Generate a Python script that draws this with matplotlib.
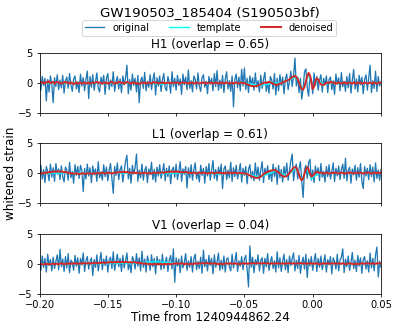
import numpy as np
import matplotlib
matplotlib.use("Agg")
import matplotlib.pyplot as plt

title = "GW190503_185404 (S190503bf)"
detectors = ["H1", "L1", "V1"]
overlaps = ["0.65", "0.61", "0.04"]
xlabel = "Time from 1240944862.24"
ylabel = "whitened strain"
legend_labels = ["original", "template", "denoised"]
t_start, t_stop = -0.2, 0.05
xticks = [-0.20, -0.15, -0.10, -0.05, 0.00, 0.05]
yticks = [-5, 0, 5]

h1_original = [
    0.3, -1.2, 1.1, -0.4, 0.8, -3.0, 0.6, -1.5, 1.2, -0.2,
    -3.3, 0.9, -0.6, 1.4, -1.1, 0.5, -0.8, 1.3, -1.7, 0.4,
    1.0, -0.9, 1.6, -0.3, -1.4, 0.7, 1.2, -1.0, 0.2, -1.6,
    1.5, -0.5, 0.9, -1.3, 0.6, 2.0, -2.6, 1.1, -0.7, 1.4,
    -1.2, 0.3, 1.7, -0.8, -1.5, 1.0, -0.2, 1.3, -1.9, 0.8,
    1.6, -1.1, 0.5, -0.6, 1.9, -1.4, 0.2, 1.1, -1.0, 0.7,
    -1.6, 1.2, -0.3, 0.9, 3.0, -1.8, 0.6, -1.2, 1.5, -0.4,
    0.8, -1.5, 1.3, -3.3, 0.4, 1.0, -0.9, 1.8, -1.3, 0.3,
    -0.7, 1.4, -1.1, 0.6, 1.7, -2.0, 0.9, -0.5, 1.2, -1.4,
    0.5, 1.6, -0.8, -1.3, 1.1, 0.2, -1.7, 1.9, -0.6, 0.8,
    -1.2, 1.3, -0.4, 0.7, -1.9, 1.5, -0.3, 1.0, -1.1, 2.2,
    -0.9, 0.4, -1.5, 1.2, 0.6, -1.0, 1.7, -0.5, -1.4, 0.9,
    1.4, -0.7, 0.3, -1.8, 1.1, -0.2, 0.8, -1.3, 1.6, -0.6,
    2.1, -1.2, 0.5, -0.9, 1.3, -1.6, 0.7, 1.9, -1.0, 0.4,
    -1.4, 1.2, -4.0, 0.6, 1.5, -0.8, 1.0, -1.3, 2.3, -0.5,
    2.5, -1.1, 0.8, -1.6, 1.2, -0.3, 0.9, -1.2, 1.7, -0.7,
    0.4, -1.5, 1.3, -0.9, 0.6, 1.8, -1.4, 0.2, -1.7, 1.1,
    0.5, -1.0, 1.6, -2.0, 0.8, -1.3, 1.4, -0.4, 1.0, -1.8,
    0.7, 1.5, -1.1, 0.3, 2.0, -0.6, 1.2, 4.2, -0.5, 1.0,
    -1.6, 0.8, -2.7, -0.9, 1.9, 2.4, -0.7, -2.2, 1.3, 0.6,
    -1.8, 1.7, -0.4, 1.1, -1.2, 0.5, 1.4, -1.5, 0.8, -0.3,
    1.2, -1.6, 0.6, 1.0, -1.1, 0.4, -1.9, 1.5, -0.2, 0.9,
    -1.3, 1.8, -0.6, 0.3, -1.4, 1.1, -0.8, 1.6, -1.7, 0.5,
    2.3, -1.0, 0.7, -1.5, 1.3, -0.3, 1.0, -1.8, 0.6, 1.4,
    -1.2, 0.8, 3.0, -1.6, 0.4, -0.9, 2.0, -1.4, 1.1, -0.5,
    0.2,
]

l1_original = [
    -0.4, 1.3, -1.0, 0.6, -1.6, 1.1, 0.2, -1.3, 1.5, -0.7,
    0.9, -1.4, 1.6, -0.2, 0.7, -1.1, 1.2, -0.6, -1.5, 1.0,
    0.5, -1.2, 1.8, -0.8, 0.3, -1.7, 1.4, -0.4, 1.1, -0.9,
    1.3, 0.4, -3.1, 0.8, -1.0, 1.5, -0.5, 0.9, -1.6, 1.2,
    -0.3, 0.7, -1.4, 1.9, -0.8, 0.2, -1.2, 1.4, -0.6, 1.0,
    -1.3, 0.5, 1.6, -0.9, -3.4, 1.1, -0.4, 1.7, -1.1, 0.6,
    1.2, -1.5, 0.3, 2.0, 3.0, -1.0, 0.8, -1.7, 1.3, -0.2,
    0.9, 3.2, -1.4, 0.5, -0.8, 1.5, -1.2, 0.4, 1.1, -1.6,
    0.7, -0.3, 1.8, -1.1, 0.6, -1.5, 1.0, -0.5, 1.4, -0.9,
    0.2, 1.6, -1.3, 0.8, -0.6, 1.2, -1.8, 0.5, 1.0, -0.7,
    1.5, -1.1, 0.3, 1.9, -1.4, 0.7, -0.2, 1.1, -2.5, 0.9,
    -0.8, 1.4, -1.2, 0.6, 1.7, -1.0, 0.2, -1.5, 1.3, -0.4,
    0.8, -1.7, 1.1, -0.5, 1.6, -1.2, 0.4, 2.1, -0.9, 0.6,
    -1.3, 1.0, -0.3, 1.5, -2.6, 0.7, 1.2, -1.1, 0.5, -0.8,
    1.8, -1.4, 0.9, -0.6, 1.3, -1.0, 0.2, 1.6, -1.5, 0.8,
    -0.4, 1.1, -1.8, 0.6, 1.4, -0.9, 0.3, -1.3, 1.7, -0.7,
    1.0, -1.2, 0.5, 1.9, -1.6, 0.8, -0.3, 1.2, -1.1, 0.4,
    -1.4, 1.5, -0.6, 0.9, -1.9, 1.3, -0.8, 0.6, -1.5, 1.1,
    -0.5, 1.7, -1.2, 0.4, 2.0, 3.2, -1.3, 0.7, 1.5, -1.0,
    0.8, 1.9, -1.4, -4.1, 0.6, 1.3, -0.9, 1.8, 2.3, -1.2,
    0.5, -1.6, 1.2, -0.4, 0.9, -1.3, 1.6, -0.7, 0.3, -1.5,
    1.1, -0.6, 1.4, -1.0, 0.2, 1.7, -1.4, 0.8, -0.5, 1.2,
    -1.1, 0.6, 1.5, -0.9, 2.5, -1.3, 0.4, 1.0, -1.7, 0.7,
    -0.3, 1.3, -1.2, 0.9, -0.7, 1.6, -1.4, -2.6, 1.1, -0.5,
    0.8, -1.1, 1.4, -0.6, 1.0, -1.5, 1.7, -0.9, 0.5, -1.2,
    0.6,
]

v1_original = [
    0.5, -1.1, 1.3, -0.6, 0.9, -1.4, 1.6, -0.3, 0.7, -1.2,
    1.1, -0.8, 0.4, 1.5, -1.0, 2.4, -0.5, 0.8, -1.3, 1.2,
    -0.7, 1.7, -1.5, 0.6, 0.2, -1.1, 1.4, -0.4, 1.0, -1.6,
    0.9, -0.2, 1.8, -1.3, 0.5, 1.2, -0.9, 0.3, 1.0, -2.0,
    0.7, -0.6, 1.5, -1.2, 0.4, 1.9, -1.0, 0.8, -0.3, 1.3,
    -1.4, 0.6, 1.1, -0.8, 2.0, -1.1, 0.3, 1.6, -0.5, 0.9,
    -1.3, 1.4, -0.7, 0.5, 1.8, -1.0, 0.2, -1.5, 1.2, 0.6,
    -0.9, 1.7, -0.4, 1.0, -1.2, 2.1, -0.6, 0.8, -1.4, 1.3,
    0.4, -1.1, 1.5, -0.5, 0.9, -1.7, 1.2, -0.2, 0.7, -1.0,
    1.6, -0.8, 0.3, 1.1, -1.3, 0.6, 1.4, -0.9, 2.5, -3.1,
    1.0, -0.4, 0.8, -1.5, 1.3, -0.7, 0.2, 1.7, -1.1, 0.5,
    -0.6, 1.2, -1.4, 0.9, 1.6, -1.0, 0.4, -0.8, 1.1, -1.6,
    2.3, -0.5, 0.7, -1.2, 1.4, -0.3, 0.9, -1.7, 1.5, -0.6,
    0.3, 1.8, -1.1, 0.6, -0.9, 1.3, -1.4, 0.8, 1.0, -0.5,
    -1.2, 1.6, -0.7, 0.4, 1.9, -1.3, 0.5, -0.4, 1.2, -1.0,
    0.8, 1.4, -0.9, -3.9, 3.0, -0.6, 1.1, -1.5, 0.7, -0.2,
    1.5, -1.2, 0.6, 1.0, -1.6, 0.9, -0.5, 1.7, -1.1, 0.3,
    1.2, -0.8, 0.5, -1.4, 2.0, -0.7, 1.0, -1.3, 0.4, 1.6,
    -1.0, 0.7, -1.5, 1.3, -0.3, 0.9, 1.8, -1.2, 0.6, -0.8,
    1.4, -1.6, 0.2, 1.1, -0.9, 1.6, -2.3, 0.8, -0.4, 1.2,
    -1.1, 0.5, 1.7, -1.3, 0.9, -0.6, 1.3, -1.0, 0.3, 1.5,
    -1.4, 0.7, -0.2, 1.2, -1.7, 1.0, 0.4, -0.9, 1.6, -1.2,
    0.6, 1.1, 2.5, -1.5, 0.8, -0.5, 1.3, -1.1, 0.2, 1.9,
    -0.8, 0.6, -1.3, 1.4, -0.4, 1.0, -1.6, 0.7, 1.2, -0.9,
    0.5, -1.4, 1.8, -0.7, 0.9, -1.2, 1.5, 2.8, -2.2, 0.4,
    -0.6,
]

h1_denoised = [
    0.1, 0.2, 0.0, 0.1, -0.1, 0.2, 0.1, 0.3, 0.0, 0.1,
    0.2, -0.1, 0.1, 0.2, 0.0, 0.1, -0.1, 0.0, 0.1, 0.2,
    0.0, 0.1, -0.1, 0.1, 0.0, -0.2, 0.0, 0.1, -0.1, 0.0,
    0.1, -0.1, 0.0, 0.1, -0.1, 0.0, 0.1, -0.1, 0.0, 0.1,
    0.0, 0.1, 0.2, 0.0, 0.1, 0.0, -0.1, 0.1, 0.0, 0.1,
    -0.1, 0.0, 0.1, 0.2, 0.0, -0.1, 0.1, 0.0, 0.2, 0.1,
    0.0, 0.1, -0.1, 0.0, 0.2, 0.1, 0.0, -0.1, 0.1, 0.0,
    0.1, -0.1, 0.0, -0.2, 0.0, 0.1, 0.0, 0.1, -0.1, 0.0,
    0.1, 0.0, -0.1, 0.1, 0.2, 0.0, 0.1, -0.1, 0.0, 0.1,
    0.0, 0.1, -0.1, 0.0, 0.1, 0.0, -0.1, 0.1, 0.0, 0.1,
    0.0, 0.1, 0.0, -0.1, 0.1, 0.1, 0.0, 0.1, 0.0, -0.1,
    0.1, 0.0, 0.1, -0.1, 0.0, 0.1, 0.0, -0.1, 0.0, 0.1,
    0.0, 0.1, -0.1, 0.0, 0.1, 0.0, 0.1, -0.1, 0.0, 0.1,
    0.0, -0.1, 0.1, 0.0, 0.1, -0.1, 0.0, 0.1, 0.0, -0.1,
    0.0, 0.1, -0.1, 0.0, 0.1, 0.0, -0.1, 0.0, 0.1, 0.0,
    0.0, -0.1, -0.2, -0.3, -0.4, -0.5, -0.5, -0.6, -0.5, -0.5,
    -0.4, -0.3, -0.2, -0.1, 0.0, 0.1, 0.0, 0.1, 0.2, 0.1,
    0.0, -0.1, -0.2, -0.3, -0.3, -0.2, -0.1, 0.0, 0.1, 0.2,
    0.3, 0.4, 0.5, 0.6, 0.8, 1.0, 1.1, 1.2, 1.0, 0.6,
    0.1, -0.5, -1.0, -1.1, -0.6, 0.3, 1.2, 1.7, 1.3, 0.2,
    -1.0, -0.6, 0.3, 0.8, 0.6, 0.1, -0.2, -0.3, -0.3, -0.1,
    0.0, 0.1, 0.0, 0.2, 0.1, 0.0, 0.1, -0.1, 0.0, 0.1,
    0.0, -0.1, 0.1, 0.0, 0.1, -0.1, 0.0, 0.1, 0.0, -0.1,
    0.1, 0.0, -0.1, 0.1, 0.0, 0.1, -0.1, 0.0, 0.1, 0.0,
    -0.1, 0.0, 0.1, 0.0, -0.1, 0.1, 0.0, -0.1, 0.0, 0.1,
    0.0,
]

l1_denoised = [
    0.0, 0.1, -0.1, 0.0, 0.1, 0.0, 0.1, 0.2, 0.1, 0.2,
    0.2, 0.3, 0.2, 0.3, 0.3, 0.2, 0.3, 0.2, 0.1, 0.2,
    0.1, 0.0, 0.1, -0.1, 0.0, -0.1, -0.1, 0.0, -0.1, -0.2,
    -0.1, -0.1, 0.0, -0.1, -0.1, 0.0, -0.1, 0.0, -0.1, -0.1,
    0.0, -0.1, 0.0, 0.0, -0.1, 0.0, 0.1, 0.0, -0.1, 0.0,
    0.0, 0.1, 0.0, -0.1, 0.0, 0.1, 0.0, 0.1, 0.1, 0.2,
    0.1, 0.2, 0.2, 0.1, 0.2, 0.1, 0.0, 0.1, 0.0, 0.1,
    0.0, 0.0, 0.1, 0.0, -0.1, 0.0, 0.0, 0.1, 0.0, -0.1,
    0.0, 0.0, -0.1, 0.0, 0.1, 0.0, 0.0, 0.1, 0.0, 0.1,
    0.1, 0.0, 0.1, 0.2, 0.1, 0.2, 0.2, 0.3, 0.2, 0.2,
    0.3, 0.2, 0.2, 0.1, 0.2, 0.1, 0.1, 0.2, 0.1, 0.0,
    0.1, 0.0, 0.0, 0.1, 0.0, -0.1, 0.0, 0.1, 0.0, 0.0,
    0.1, 0.0, 0.0, -0.1, 0.0, 0.0, 0.1, 0.0, -0.1, 0.0,
    0.1, 0.0, 0.1, 0.0, 0.0, -0.1, 0.0, 0.1, 0.0, 0.0,
    0.1, 0.0, 0.0, 0.1, 0.0, -0.1, 0.0, 0.0, -0.1, 0.0,
    -0.1, -0.1, -0.2, -0.3, -0.4, -0.5, -0.6, -0.7, -0.8, -0.8,
    -0.8, -0.7, -0.6, -0.4, -0.2, 0.0, 0.1, 0.2, 0.3, 0.4,
    0.4, 0.5, 0.5, 0.4, 0.3, 0.1, -0.1, -0.3, -0.5, -0.6,
    -0.6, -0.5, -0.3, 0.0, 0.3, 0.6, 0.9, 1.0, 0.9, 0.4,
    -0.3, -0.9, -1.2, -0.9, -0.1, 0.6, 1.0, 0.6, -0.1, -0.6,
    -0.5, -0.2, 0.1, 0.2, 0.1, 0.0, 0.1, 0.0, -0.1, 0.0,
    0.1, 0.0, -0.1, 0.0, 0.1, 0.0, 0.0, 0.1, 0.0, -0.1,
    0.0, 0.1, 0.0, 0.0, -0.1, 0.0, 0.1, 0.0, 0.1, 0.0,
    -0.1, 0.0, 0.1, 0.0, 0.0, 0.1, 0.0, -0.1, 0.0, 0.1,
    0.0, 0.1, 0.0, -0.1, 0.0, 0.1, 0.0, 0.0, 0.1, 0.0,
    0.0,
]

v1_denoised = [
    -0.1, 0.0, -0.1, -0.1, 0.0, -0.1, 0.0, -0.1, -0.1, 0.0,
    0.0, -0.1, 0.0, 0.0, -0.1, 0.0, 0.1, 0.0, -0.1, 0.0,
    0.0, 0.0, 0.1, 0.0, 0.0, 0.1, 0.0, 0.1, 0.0, 0.0,
    0.1, 0.0, 0.1, 0.1, 0.0, 0.1, 0.1, 0.0, 0.1, 0.1,
    0.1, 0.2, 0.1, 0.1, 0.2, 0.1, 0.2, 0.2, 0.1, 0.2,
    0.2, 0.2, 0.3, 0.2, 0.2, 0.3, 0.2, 0.3, 0.3, 0.2,
    0.3, 0.3, 0.2, 0.3, 0.3, 0.2, 0.3, 0.2, 0.2, 0.3,
    0.2, 0.2, 0.1, 0.2, 0.1, 0.1, 0.0, 0.1, 0.0, 0.0,
    -0.1, 0.0, -0.1, -0.1, 0.0, -0.1, -0.1, 0.0, -0.1, 0.0,
    -0.1, -0.1, 0.0, -0.1, 0.0, 0.0, -0.1, 0.0, 0.0, 0.1,
    0.0, 0.1, 0.0, 0.0, 0.1, 0.0, -0.1, 0.0, 0.0, -0.1,
    0.0, 0.0, -0.1, 0.0, 0.1, 0.0, 0.0, 0.1, 0.0, 0.1,
    0.1, 0.0, 0.1, 0.1, 0.0, 0.1, 0.0, 0.0, 0.1, 0.0,
    0.0, -0.1, 0.0, 0.0, -0.1, 0.0, 0.0, 0.1, 0.0, 0.0,
    0.1, 0.0, 0.0, 0.1, 0.0, 0.0, -0.1, 0.0, 0.0, 0.1,
    0.0, 0.1, 0.0, 0.0, 0.1, 0.0, 0.1, 0.1, 0.0, 0.1,
    0.1, 0.0, 0.1, 0.0, 0.1, 0.1, 0.0, 0.1, 0.0, 0.0,
    0.1, 0.0, 0.0, 0.1, 0.0, 0.1, 0.0, 0.0, 0.1, 0.0,
    0.0, 0.1, 0.0, 0.1, 0.1, 0.0, 0.1, 0.0, 0.0, 0.1,
    0.0, 0.1, 0.1, 0.0, 0.1, 0.0, 0.0, 0.1, 0.0, 0.1,
    0.0, 0.0, 0.1, 0.0, 0.0, -0.1, 0.0, 0.0, 0.1, 0.0,
    0.0, 0.1, 0.0, 0.0, 0.1, 0.0, 0.1, 0.0, 0.0, 0.1,
    0.0, 0.0, 0.1, 0.0, -0.1, 0.0, 0.0, 0.1, 0.0, 0.0,
    -0.1, 0.0, 0.0, -0.1, 0.0, 0.0, 0.1, 0.0, 0.0, 0.1,
    0.0, 0.1, 0.0, 0.0, 0.1, 0.0, 0.0, 0.1, 0.0, 0.1,
    0.0,
]

h1_template_t = [-0.2, -0.12, -0.11, -0.10, -0.05, -0.045, -0.04, -0.035, -0.03,
                 -0.02, -0.0126, -0.0069, -0.0033, 0.0004, 0.0033, 0.0077, 0.012, 0.05]
h1_template_v = [0.0, 0.0, -0.2, 0.0, 0.0, -0.2, -0.4, -0.3, -0.1,
                 0.2, 1.0, -1.0, 1.4, -0.9, 0.6, -0.2, 0.0, 0.0]
l1_template_t = [-0.2, -0.12, -0.11, -0.10, -0.08, -0.07, -0.06, -0.045, -0.039, -0.033,
                 -0.027, -0.019, -0.012, -0.008, -0.0045, -0.001, 0.003, 0.008, 0.05]
l1_template_v = [0.0, 0.0, -0.1, 0.0, 0.0, -0.15, 0.0, -0.3, -0.7, -0.2,
                 0.4, -0.5, 0.9, -1.1, 0.8, -1.0, -0.2, 0.0, 0.0]
v1_template_t = [-0.2, -0.15, -0.13, -0.115, -0.105, -0.095, -0.08, 0.05]
v1_template_v = [0.0, 0.05, 0.1, 0.35, 0.2, 0.0, 0.0, 0.0]

originals = [h1_original, l1_original, v1_original]
denoised = [h1_denoised, l1_denoised, v1_denoised]
templates = [(h1_template_t, h1_template_v), (l1_template_t, l1_template_v),
             (v1_template_t, v1_template_v)]

W, H, DPI = 398, 329, 71
fig = plt.figure(figsize=(W / DPI, H / DPI), dpi=DPI)

left_px, right_px = 39.5, 381.0
tops_px = [53.3, 143.3, 234.0]
height_px = 59.5

axes = []
for k in range(3):
    ax = fig.add_axes([left_px / W, 1 - (tops_px[k] + height_px) / H,
                       (right_px - left_px) / W, height_px / H])
    orig = np.array(originals[k])
    t = np.linspace(t_start, t_stop, len(orig))
    l_orig, = ax.plot(t, orig, color="#1f77b4", lw=1.3)
    tt, tv = templates[k]
    l_tmpl, = ax.plot(tt, tv, color="cyan", lw=1.4)
    den = np.array(denoised[k])
    l_den, = ax.plot(np.linspace(t_start, t_stop, len(den)), den, color="#d62728", lw=2.0)
    ax.set_xlim(t_start, t_stop)
    ax.set_ylim(-5, 5)
    ax.set_yticks(yticks)
    ax.set_xticks(xticks)
    ax.tick_params(labelsize=10, length=3.5, width=0.8)
    ax.set_title(f"{detectors[k]} (overlap = {overlaps[k]})", fontsize=12, pad=5)
    if k < 2:
        ax.tick_params(labelbottom=False)
    else:
        ax.set_xticklabels([f"{x:.2f}".replace("-", "\u2212") for x in xticks])
        ax.set_xlabel(xlabel, fontsize=12, labelpad=1)
    axes.append(ax)

fig.text(210 / W, 1 - 16 / H, title, ha="center", va="baseline", fontsize=13.5)
fig.legend([l_orig, l_tmpl, l_den], legend_labels, loc="center",
           bbox_to_anchor=(209 / W, 1 - 27.7 / H), ncol=3, fontsize=10,
           borderpad=0.3, handletextpad=0.8, columnspacing=2.0)
fig.text(11 / W, 1 - 173 / H, ylabel, rotation=90, ha="center", va="center", fontsize=12)

fig.savefig("out.png", dpi=DPI)
